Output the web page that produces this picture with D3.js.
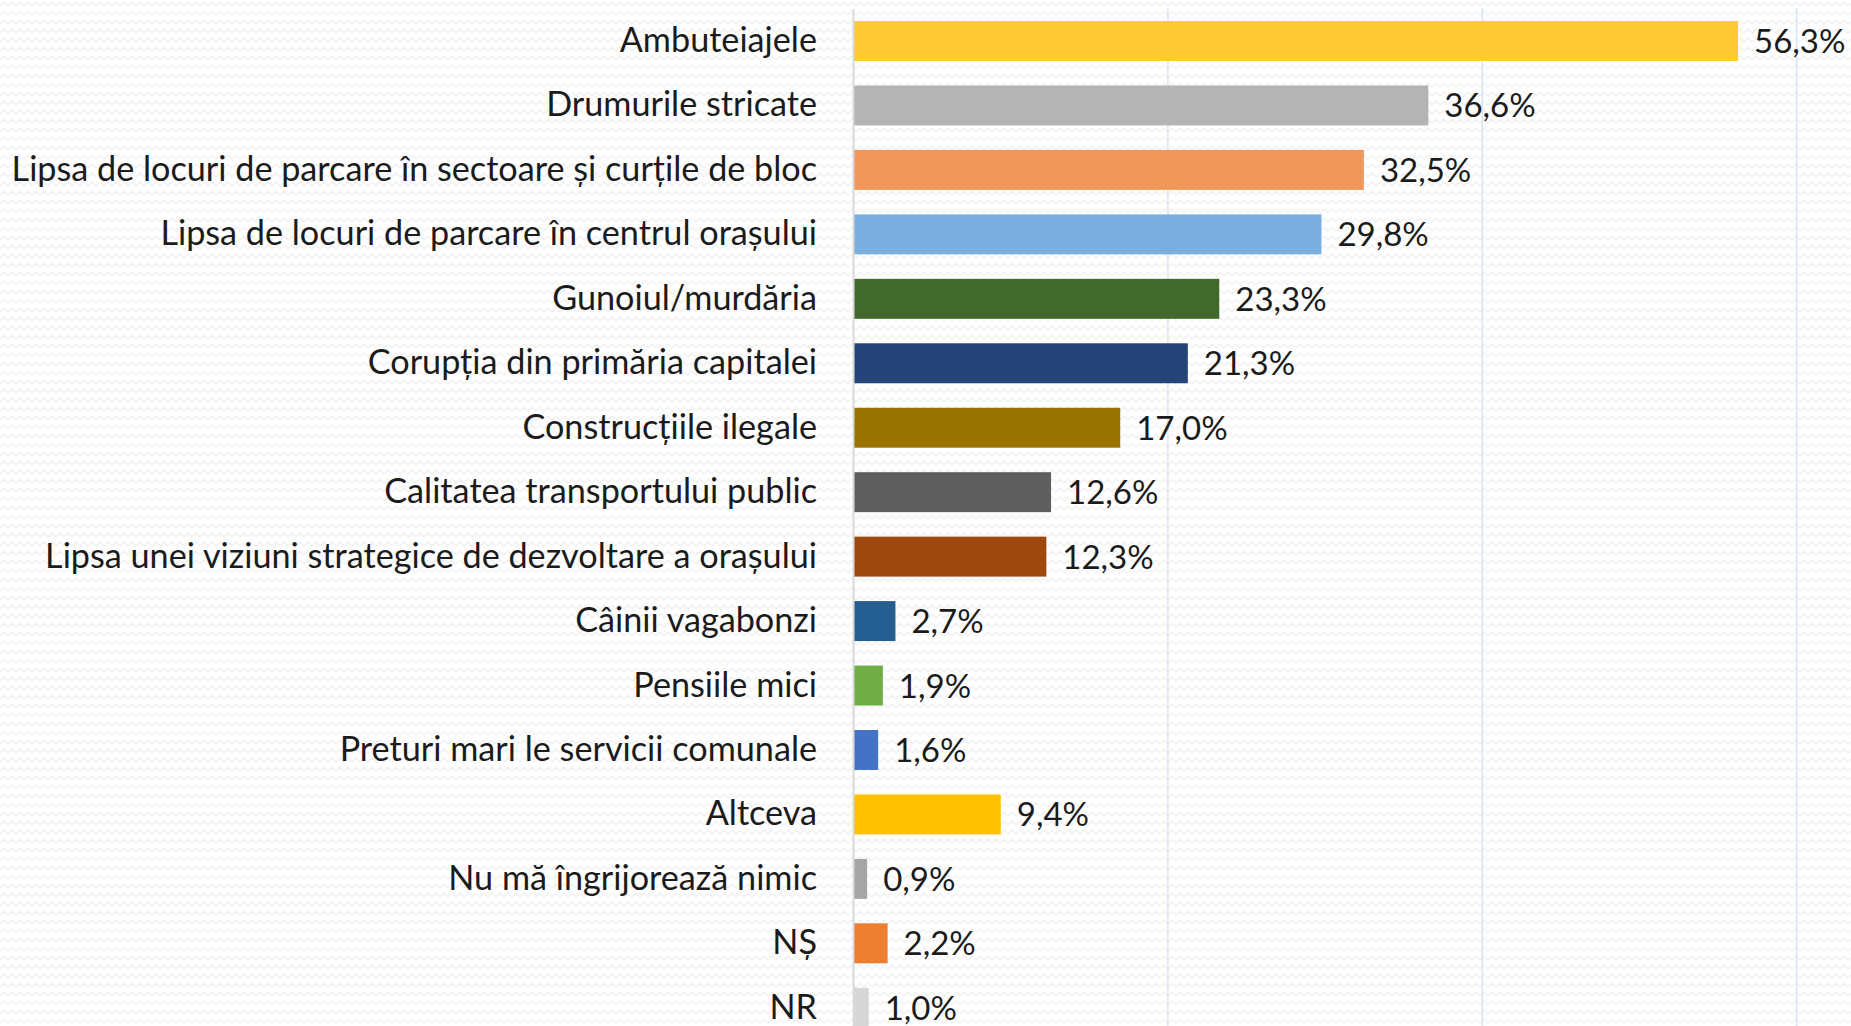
<!DOCTYPE html>
<html><head><meta charset="UTF-8">
<script src="https://d3js.org/d3.v7.min.js"></script>
<style>
  body { margin: 0; background: #fff; }
  svg text { font-family: Lato, "Open Sans", sans-serif; fill: #1b1b1b; }
</style>
</head>
<body>
<div id="body"></div>
<script type="text/javascript">

var categories = [
  "Ambuteiajele",
  "Drumurile stricate",
  "Lipsa de locuri de parcare în sectoare și curțile de bloc",
  "Lipsa de locuri de parcare în centrul orașului",
  "Gunoiul/murdăria",
  "Corupția din primăria capitalei",
  "Construcțiile ilegale",
  "Calitatea transportului public",
  "Lipsa unei viziuni strategice de dezvoltare a orașului",
  "Câinii vagabonzi",
  "Pensiile mici",
  "Preturi mari le servicii comunale",
  "Altceva",
  "Nu mă îngrijorează nimic",
  "NȘ",
  "NR"
];
var values = [56.3, 36.6, 32.5, 29.8, 23.3, 21.3, 17.0, 12.6, 12.3, 2.7, 1.9, 1.6, 9.4, 0.9, 2.2, 1.0];
var colors = ["#ffca33", "#b4b4b4", "#f0975b", "#7baede", "#41682d", "#264478", "#987300", "#5f5f5f",
              "#9e480e", "#255e91", "#70ad47", "#4472c4", "#ffc000", "#a5a5a5", "#ed7d31", "#d6d6d6"];
var gridTicks = [20, 40, 60];

var w = 1851,
    h = 1026,
    left = 853,
    labelSize = 34.2,
    valueSize = 33;

var rows = categories.map(function(c, i) { return {name: c, value: values[i], color: colors[i]}; });

var svg = d3.select("#body").append("svg")
    .attr("width", w)
    .attr("height", h);

// faint zigzag background
var defs = svg.append("defs");
var pat = defs.append("pattern")
    .attr("id", "zig")
    .attr("width", 8)
    .attr("height", 9)
    .attr("patternUnits", "userSpaceOnUse");
pat.append("rect").attr("width", 8).attr("height", 9).attr("fill", "#ffffff");
pat.append("path")
    .attr("d", "M0,6 L4,2 L8,6")
    .attr("fill", "none")
    .attr("stroke", "#efefef")
    .attr("stroke-width", 1.2);
svg.append("rect")
    .attr("width", w)
    .attr("height", h)
    .attr("fill", "url(#zig)");

var x = d3.scaleLinear()
    .domain([0, 60])
    .range([left, left + 60 * 15.72]);

var y = d3.scaleBand()
    .domain(categories)
    .range([8.8, 8.8 + 16 * 64.45])
    .paddingInner(0.38)
    .paddingOuter(0.19);

// vertical gridlines
svg.append("g")
    .attr("transform", "translate(0," + h + ")")
    .call(d3.axisBottom(x).tickValues(gridTicks).tickSize(-(h - 8)).tickFormat(""))
    .call(function(g) { g.select(".domain").remove(); })
    .call(function(g) {
        g.selectAll(".tick line")
            .attr("stroke", "#dae4f1")
            .attr("stroke-width", 1.5);
    });

// bars
svg.selectAll(".bar")
    .data(rows)
    .enter().append("rect")
    .attr("class", "bar")
    .attr("x", x(0))
    .attr("y", function(d) { return y(d.name); })
    .attr("width", function(d) { return x(d.value) - x(0); })
    .attr("height", y.bandwidth())
    .attr("fill", function(d) { return d.color; });

// category axis
var yAxis = svg.append("g")
    .attr("transform", "translate(" + left + ",0)")
    .call(d3.axisLeft(y).tickSize(0).tickPadding(36));
yAxis.select(".domain")
    .attr("stroke", "#d9d9d9")
    .attr("stroke-width", 2);
yAxis.selectAll("text")
    .attr("dy", null)
    .attr("y", 11)
    .style("font-size", labelSize + "px")
    .style("fill", "#1b1b1b");

// value labels
svg.selectAll(".val")
    .data(rows)
    .enter().append("text")
    .attr("class", "val")
    .attr("x", function(d) { return x(d.value) + 16; })
    .attr("y", function(d) { return y(d.name) + y.bandwidth() / 2 + 12; })
    .style("font-size", valueSize + "px")
    .text(function(d) { return d3.format(".1f")(d.value).replace(".", ",") + "%"; });

</script>
</body></html>
